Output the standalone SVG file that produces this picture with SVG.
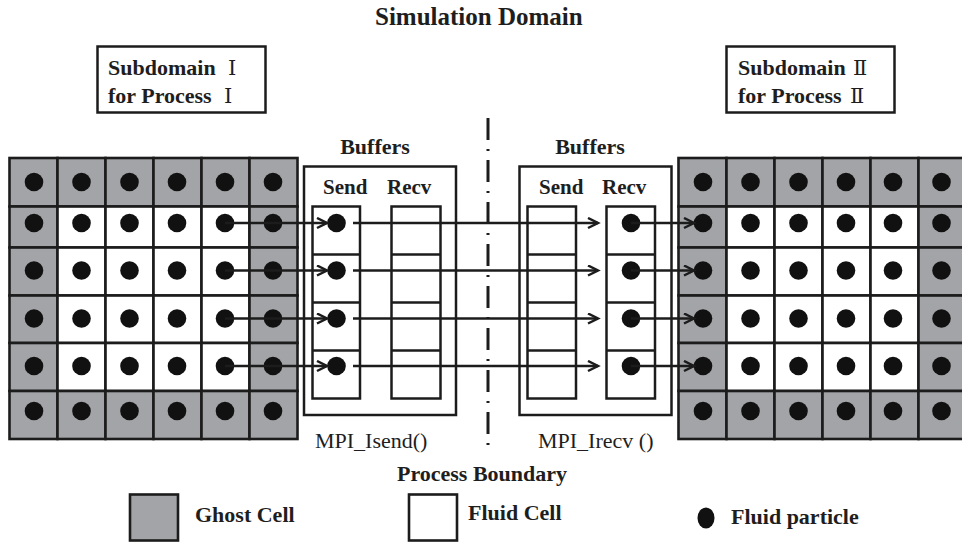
<svg xmlns="http://www.w3.org/2000/svg" width="962" height="545" viewBox="0 0 962 545">
  <style>
    .t { font-family: "Liberation Serif", "Times New Roman", serif; fill: #1e1e1e; }
    .b { font-weight: bold; }
    .num { font-family: "DejaVu Serif", "Liberation Serif", "Noto Sans CJK SC", serif; font-weight: normal; fill: #1e1e1e; }
    .ghost { fill: #a3a4a7; stroke: #1c1c1c; stroke-width: 2.6; }
    .fluid { fill: #ffffff; stroke: #1c1c1c; stroke-width: 2.6; }
    .box { fill: none; stroke: #1c1c1c; stroke-width: 2.5; }
    .p { fill: #111111; }
    .wire { fill: none; stroke: #1c1c1c; stroke-width: 2.5; marker-end: url(#chev); }
  </style>
  <defs>
    <marker id="chev" markerUnits="userSpaceOnUse" markerWidth="14" markerHeight="14" refX="11" refY="6" orient="auto">
      <path d="M1,1 L11,6 L1,11" fill="none" stroke="#1c1c1c" stroke-width="2.5" stroke-linejoin="miter"/>
    </marker>
  </defs>

  <rect width="962" height="545" fill="#ffffff"/>

  <!-- title -->
  <g id="title">
    <text class="t b" x="375" y="25" font-size="25">Simulation Domain</text>
  </g>

  <!-- subdomain labels -->
  <g id="subdomain-1">
    <rect class="box" x="97.5" y="46.5" width="168" height="66"/>
    <text class="t b" x="108" y="75" font-size="22">Subdomain</text>
    <text class="num" x="228" y="75" font-size="21">Ⅰ</text>
    <text class="t b" x="108" y="102.5" font-size="22">for Process</text>
    <text class="num" x="224" y="102.5" font-size="21">Ⅰ</text>
  </g>
  <g id="subdomain-2">
    <rect class="box" x="726.5" y="46.5" width="168" height="66"/>
    <text class="t b" x="738" y="75" font-size="22">Subdomain</text>
    <text class="num" x="853" y="75" font-size="21">Ⅱ</text>
    <text class="t b" x="738" y="102.5" font-size="22">for Process</text>
    <text class="num" x="850" y="102.5" font-size="21">Ⅱ</text>
  </g>

  <!-- left subdomain grid: ghost ring around 4x4 fluid cells -->
  <g id="grid-left">
    <!-- row 1 -->
    <rect class="ghost" x="9.5" y="158" width="48" height="48.5"/>
    <rect class="ghost" x="57.5" y="158" width="48" height="48.5"/>
    <rect class="ghost" x="105.5" y="158" width="48" height="48.5"/>
    <rect class="ghost" x="153.5" y="158" width="48" height="48.5"/>
    <rect class="ghost" x="201.5" y="158" width="48" height="48.5"/>
    <rect class="ghost" x="249.5" y="158" width="48" height="48.5"/>
    <!-- row 2 -->
    <rect class="ghost" x="9.5" y="206.5" width="48" height="41"/>
    <rect class="fluid" x="57.5" y="206.5" width="48" height="41"/>
    <rect class="fluid" x="105.5" y="206.5" width="48" height="41"/>
    <rect class="fluid" x="153.5" y="206.5" width="48" height="41"/>
    <rect class="fluid" x="201.5" y="206.5" width="48" height="41"/>
    <rect class="ghost" x="249.5" y="206.5" width="48" height="41"/>
    <!-- row 3 -->
    <rect class="ghost" x="9.5" y="247.5" width="48" height="48"/>
    <rect class="fluid" x="57.5" y="247.5" width="48" height="48"/>
    <rect class="fluid" x="105.5" y="247.5" width="48" height="48"/>
    <rect class="fluid" x="153.5" y="247.5" width="48" height="48"/>
    <rect class="fluid" x="201.5" y="247.5" width="48" height="48"/>
    <rect class="ghost" x="249.5" y="247.5" width="48" height="48"/>
    <!-- row 4 -->
    <rect class="ghost" x="9.5" y="295.5" width="48" height="47.5"/>
    <rect class="fluid" x="57.5" y="295.5" width="48" height="47.5"/>
    <rect class="fluid" x="105.5" y="295.5" width="48" height="47.5"/>
    <rect class="fluid" x="153.5" y="295.5" width="48" height="47.5"/>
    <rect class="fluid" x="201.5" y="295.5" width="48" height="47.5"/>
    <rect class="ghost" x="249.5" y="295.5" width="48" height="47.5"/>
    <!-- row 5 -->
    <rect class="ghost" x="9.5" y="343" width="48" height="48"/>
    <rect class="fluid" x="57.5" y="343" width="48" height="48"/>
    <rect class="fluid" x="105.5" y="343" width="48" height="48"/>
    <rect class="fluid" x="153.5" y="343" width="48" height="48"/>
    <rect class="fluid" x="201.5" y="343" width="48" height="48"/>
    <rect class="ghost" x="249.5" y="343" width="48" height="48"/>
    <!-- row 6 -->
    <rect class="ghost" x="9.5" y="391" width="48" height="48"/>
    <rect class="ghost" x="57.5" y="391" width="48" height="48"/>
    <rect class="ghost" x="105.5" y="391" width="48" height="48"/>
    <rect class="ghost" x="153.5" y="391" width="48" height="48"/>
    <rect class="ghost" x="201.5" y="391" width="48" height="48"/>
    <rect class="ghost" x="249.5" y="391" width="48" height="48"/>
    <!-- particles -->
    <g class="p">
      <circle cx="34" cy="182" r="9.3"/><circle cx="81.5" cy="182" r="9.3"/><circle cx="129.5" cy="182" r="9.3"/><circle cx="177" cy="182" r="9.3"/><circle cx="225" cy="182" r="9.3"/><circle cx="273" cy="182" r="9.3"/>
      <circle cx="34" cy="223" r="9.3"/><circle cx="81.5" cy="223" r="9.3"/><circle cx="129.5" cy="223" r="9.3"/><circle cx="177" cy="223" r="9.3"/><circle cx="225" cy="223" r="9.3"/><circle cx="273" cy="223" r="9.3"/>
      <circle cx="34" cy="270.5" r="9.3"/><circle cx="81.5" cy="270.5" r="9.3"/><circle cx="129.5" cy="270.5" r="9.3"/><circle cx="177" cy="270.5" r="9.3"/><circle cx="225" cy="270.5" r="9.3"/><circle cx="273" cy="270.5" r="9.3"/>
      <circle cx="34" cy="318.5" r="9.3"/><circle cx="81.5" cy="318.5" r="9.3"/><circle cx="129.5" cy="318.5" r="9.3"/><circle cx="177" cy="318.5" r="9.3"/><circle cx="225" cy="318.5" r="9.3"/><circle cx="273" cy="318.5" r="9.3"/>
      <circle cx="34" cy="366" r="9.3"/><circle cx="81.5" cy="366" r="9.3"/><circle cx="129.5" cy="366" r="9.3"/><circle cx="177" cy="366" r="9.3"/><circle cx="225" cy="366" r="9.3"/><circle cx="273" cy="366" r="9.3"/>
      <circle cx="34" cy="411" r="9.3"/><circle cx="81.5" cy="411" r="9.3"/><circle cx="129.5" cy="411" r="9.3"/><circle cx="177" cy="411" r="9.3"/><circle cx="225" cy="411" r="9.3"/><circle cx="273" cy="411" r="9.3"/>
    </g>
  </g>

  <!-- right subdomain grid (runs past the right edge) -->
  <g id="grid-right">
    <rect class="ghost" x="678.5" y="158" width="48" height="48.5"/>
    <rect class="ghost" x="726.5" y="158" width="48" height="48.5"/>
    <rect class="ghost" x="774.5" y="158" width="48" height="48.5"/>
    <rect class="ghost" x="822.5" y="158" width="48" height="48.5"/>
    <rect class="ghost" x="870.5" y="158" width="48" height="48.5"/>
    <rect class="ghost" x="918.5" y="158" width="48" height="48.5"/>

    <rect class="ghost" x="678.5" y="206.5" width="48" height="41"/>
    <rect class="fluid" x="726.5" y="206.5" width="48" height="41"/>
    <rect class="fluid" x="774.5" y="206.5" width="48" height="41"/>
    <rect class="fluid" x="822.5" y="206.5" width="48" height="41"/>
    <rect class="fluid" x="870.5" y="206.5" width="48" height="41"/>
    <rect class="ghost" x="918.5" y="206.5" width="48" height="41"/>

    <rect class="ghost" x="678.5" y="247.5" width="48" height="48"/>
    <rect class="fluid" x="726.5" y="247.5" width="48" height="48"/>
    <rect class="fluid" x="774.5" y="247.5" width="48" height="48"/>
    <rect class="fluid" x="822.5" y="247.5" width="48" height="48"/>
    <rect class="fluid" x="870.5" y="247.5" width="48" height="48"/>
    <rect class="ghost" x="918.5" y="247.5" width="48" height="48"/>

    <rect class="ghost" x="678.5" y="295.5" width="48" height="47.5"/>
    <rect class="fluid" x="726.5" y="295.5" width="48" height="47.5"/>
    <rect class="fluid" x="774.5" y="295.5" width="48" height="47.5"/>
    <rect class="fluid" x="822.5" y="295.5" width="48" height="47.5"/>
    <rect class="fluid" x="870.5" y="295.5" width="48" height="47.5"/>
    <rect class="ghost" x="918.5" y="295.5" width="48" height="47.5"/>

    <rect class="ghost" x="678.5" y="343" width="48" height="48"/>
    <rect class="fluid" x="726.5" y="343" width="48" height="48"/>
    <rect class="fluid" x="774.5" y="343" width="48" height="48"/>
    <rect class="fluid" x="822.5" y="343" width="48" height="48"/>
    <rect class="fluid" x="870.5" y="343" width="48" height="48"/>
    <rect class="ghost" x="918.5" y="343" width="48" height="48"/>

    <rect class="ghost" x="678.5" y="391" width="48" height="48"/>
    <rect class="ghost" x="726.5" y="391" width="48" height="48"/>
    <rect class="ghost" x="774.5" y="391" width="48" height="48"/>
    <rect class="ghost" x="822.5" y="391" width="48" height="48"/>
    <rect class="ghost" x="870.5" y="391" width="48" height="48"/>
    <rect class="ghost" x="918.5" y="391" width="48" height="48"/>
    <g class="p">
      <circle cx="703" cy="182" r="9.3"/><circle cx="750.5" cy="182" r="9.3"/><circle cx="798.5" cy="182" r="9.3"/><circle cx="846" cy="182" r="9.3"/><circle cx="893" cy="182" r="9.3"/><circle cx="941.5" cy="182" r="9.3"/>
      <circle cx="703" cy="223" r="9.3"/><circle cx="750.5" cy="223" r="9.3"/><circle cx="798.5" cy="223" r="9.3"/><circle cx="846" cy="223" r="9.3"/><circle cx="893" cy="223" r="9.3"/><circle cx="941.5" cy="223" r="9.3"/>
      <circle cx="703" cy="270.5" r="9.3"/><circle cx="750.5" cy="270.5" r="9.3"/><circle cx="798.5" cy="270.5" r="9.3"/><circle cx="846" cy="270.5" r="9.3"/><circle cx="893" cy="270.5" r="9.3"/><circle cx="941.5" cy="270.5" r="9.3"/>
      <circle cx="703" cy="318.5" r="9.3"/><circle cx="750.5" cy="318.5" r="9.3"/><circle cx="798.5" cy="318.5" r="9.3"/><circle cx="846" cy="318.5" r="9.3"/><circle cx="893" cy="318.5" r="9.3"/><circle cx="941.5" cy="318.5" r="9.3"/>
      <circle cx="703" cy="366" r="9.3"/><circle cx="750.5" cy="366" r="9.3"/><circle cx="798.5" cy="366" r="9.3"/><circle cx="846" cy="366" r="9.3"/><circle cx="893" cy="366" r="9.3"/><circle cx="941.5" cy="366" r="9.3"/>
      <circle cx="703" cy="411" r="9.3"/><circle cx="750.5" cy="411" r="9.3"/><circle cx="798.5" cy="411" r="9.3"/><circle cx="846" cy="411" r="9.3"/><circle cx="893" cy="411" r="9.3"/><circle cx="941.5" cy="411" r="9.3"/>
    </g>
  </g>

  <!-- buffers of process I -->
  <g id="buffers-1">
    <text class="t b" x="375" y="154" font-size="22" text-anchor="middle">Buffers</text>
    <rect class="box" x="304" y="166.5" width="152" height="248.5"/>
    <text class="t b" x="323" y="194" font-size="21">Send</text>
    <text class="t b" x="387" y="194" font-size="21">Recv</text>
    <rect class="box" x="312.5" y="206.5" width="47.5" height="192"/>
    <path class="box" d="M312.5,254.5 H360 M312.5,302.5 H360 M312.5,350.5 H360"/>
    <rect class="box" x="391.5" y="206.5" width="49" height="192"/>
    <path class="box" d="M391.5,254.5 H440.5 M391.5,302.5 H440.5 M391.5,350.5 H440.5"/>
    <g class="p">
      <circle cx="336.5" cy="223" r="9.3"/><circle cx="336.5" cy="270.5" r="9.3"/><circle cx="336.5" cy="318.5" r="9.3"/><circle cx="336.5" cy="366" r="9.3"/>
    </g>
    <text class="t" x="315" y="448" font-size="22">MPI_Isend()</text>
  </g>

  <!-- buffers of process II -->
  <g id="buffers-2">
    <text class="t b" x="590" y="154" font-size="22" text-anchor="middle">Buffers</text>
    <rect class="box" x="519.5" y="166.5" width="152" height="248.5"/>
    <text class="t b" x="539" y="194" font-size="21">Send</text>
    <text class="t b" x="602" y="194" font-size="21">Recv</text>
    <rect class="box" x="527.5" y="206.5" width="48.5" height="192"/>
    <path class="box" d="M527.5,254.5 H576 M527.5,302.5 H576 M527.5,350.5 H576"/>
    <rect class="box" x="606.5" y="206.5" width="48.5" height="192"/>
    <path class="box" d="M606.5,254.5 H655 M606.5,302.5 H655 M606.5,350.5 H655"/>
    <g class="p">
      <circle cx="631" cy="223" r="9.3"/><circle cx="631" cy="270.5" r="9.3"/><circle cx="631" cy="318.5" r="9.3"/><circle cx="631" cy="366" r="9.3"/>
    </g>
    <text class="t" x="538" y="448" font-size="22">MPI_Irecv ()</text>
  </g>

  <!-- process boundary: dash-dot line -->
  <g id="boundary">
    <line x1="488" y1="118" x2="488" y2="448" stroke="#1c1c1c" stroke-width="3" stroke-dasharray="22 9 2 9"/>
    <text class="t b" x="482" y="481" font-size="22" text-anchor="middle">Process Boundary</text>
  </g>

  <!-- particle transfer connectors -->
  <g id="connectors">
    <path class="wire" d="M225,223 H327"/>
    <path class="wire" d="M225,270.5 H327"/>
    <path class="wire" d="M225,318.5 H327"/>
    <path class="wire" d="M225,366 H327"/>

    <path class="wire" d="M353,223 H598"/>
    <path class="wire" d="M353,270.5 H598"/>
    <path class="wire" d="M353,318.5 H598"/>
    <path class="wire" d="M353,366 H598"/>

    <path class="wire" d="M631,223 H694"/>
    <path class="wire" d="M631,270.5 H694"/>
    <path class="wire" d="M631,318.5 H694"/>
    <path class="wire" d="M631,366 H694"/>
  </g>

  <!-- legend -->
  <g id="legend-ghost">
    <rect class="ghost" x="130" y="494.5" width="48" height="46" stroke-width="3"/>
    <text class="t b" x="195" y="522" font-size="22">Ghost Cell</text>
  </g>
  <g id="legend-fluid">
    <rect class="fluid" x="409" y="494.5" width="48" height="46" stroke-width="3"/>
    <text class="t b" x="468" y="520" font-size="22">Fluid Cell</text>
  </g>
  <g id="legend-particle">
    <ellipse class="p" cx="706" cy="518" rx="8.5" ry="10.5"/>
    <text class="t b" x="731" y="524" font-size="22">Fluid particle</text>
  </g>
</svg>
